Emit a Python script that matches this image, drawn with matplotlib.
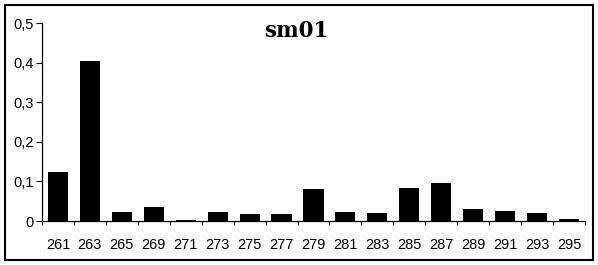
import numpy as np
import matplotlib
matplotlib.use('Agg')
from matplotlib import pyplot as plt
from matplotlib.patches import Rectangle

alleles = ['261', '263', '265', '269', '271', '273', '275', '277', '279',
           '281', '283', '285', '287', '289', '291', '293', '295']
freqs = [0.124, 0.405, 0.022, 0.035, 0.003, 0.024, 0.018, 0.018, 0.082,
         0.024, 0.020, 0.083, 0.097, 0.030, 0.025, 0.021, 0.005]
yticks = [0, 0.1, 0.2, 0.3, 0.4, 0.5]
ylabels = ['0', '0,1', '0,2', '0,3', '0,4', '0,5']

plt.rcParams['font.family'] = ['Liberation Sans', 'DejaVu Sans']

fig = plt.figure(figsize=(5.98, 2.65), dpi=100)
ax = fig.add_axes([0.0702, 0.166, 0.908, 0.747])

x = np.arange(len(alleles))
ax.bar(x, freqs, width=0.63, color='black')

ax.set_xlim(-0.5, len(alleles) - 0.5)
ax.set_ylim(0, 0.5)
ax.set_yticks(yticks)
ax.set_yticklabels(ylabels, fontsize=10.5)
ax.set_xticks(x)
ax.set_xticklabels(alleles, fontsize=10.5)
ax.set_xticks(np.arange(len(alleles) + 1) - 0.5, minor=True)
ax.tick_params(axis='x', which='major', length=0, pad=12)
ax.tick_params(axis='x', which='minor', length=3, direction='out', width=0.8)
ax.tick_params(axis='y', length=4, width=0.8, pad=2)

for s in ['top', 'right']:
    ax.spines[s].set_visible(False)
ax.spines['left'].set_linewidth(0.9)
ax.spines['bottom'].set_linewidth(0.9)

fig.text(0.495, 0.86, 'sm01', family='DejaVu Serif', fontweight='bold',
         fontsize=15.5, ha='center')

fig.add_artist(Rectangle((0.008, 0.02), 0.984, 0.96, transform=fig.transFigure,
                         fill=False, edgecolor='black', linewidth=1.5))

fig.savefig('out.png', dpi=100)
